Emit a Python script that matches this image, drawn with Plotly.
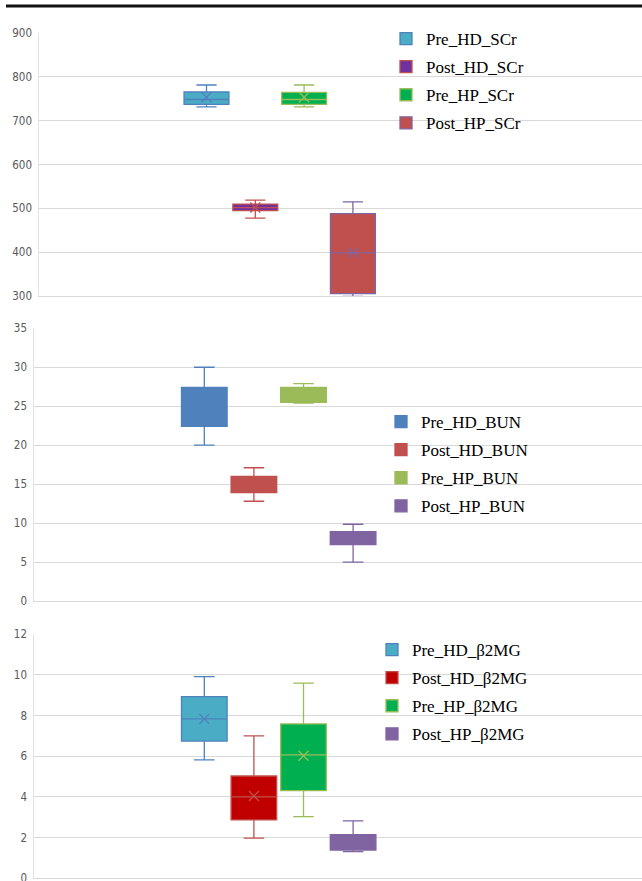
import plotly.graph_objects as go

# ---------------- data ----------------
scr_names = ["Pre_HD_SCr", "Post_HD_SCr", "Pre_HP_SCr", "Post_HP_SCr"]
scr_min = [731, 478, 731, 300]
scr_q1 = [737, 495, 737, 306]
scr_median = [748, 502, 748, 399]
scr_q3 = [765, 510, 764, 488]
scr_max = [781, 519, 781, 515]
scr_mean = [753, 502, 753, 399]
scr_ticks = [300, 400, 500, 600, 700, 800, 900]

bun_names = ["Pre_HD_BUN", "Post_HD_BUN", "Pre_HP_BUN", "Post_HP_BUN"]
bun_min = [20.0, 12.8, 25.4, 5.0]
bun_q1 = [22.4, 13.9, 25.5, 7.25]
bun_median = [24.6, 15.0, 26.6, 8.1]
bun_q3 = [27.4, 16.0, 27.4, 8.9]
bun_max = [30.0, 17.1, 27.9, 9.85]
bun_mean = [24.7, 15.0, 26.4, 8.0]
bun_ticks = [0, 5, 10, 15, 20, 25, 30, 35]

b2m_names = ["Pre_HD_β2MG", "Post_HD_β2MG", "Pre_HP_β2MG", "Post_HP_β2MG"]
b2m_min = [5.82, 1.98, 3.03, 1.31]
b2m_q1 = [6.75, 2.87, 4.31, 1.39]
b2m_median = [7.84, 4.0, 6.07, 1.67]
b2m_q3 = [8.93, 5.03, 7.59, 2.15]
b2m_max = [9.92, 7.0, 9.6, 2.82]
b2m_mean = [7.84, 4.05, 6.03, 1.85]
b2m_ticks = [0, 2, 4, 6, 8, 10, 12]

# ---------------- styles ----------------
W, H = 642, 881
line_cols = ["#4F81BD", "#C0504D", "#9BBB59", "#8064A2"]
scr_fill = ["#4BACC6", "#7030A0", "#00B050", "#C0504D"]
bun_fill = ["#4F81BD", "#C0504D", "#9BBB59", "#8064A2"]
b2m_fill = ["#4BACC6", "#C00000", "#00B050", "#8064A2"]

panels = [
    dict(names=scr_names, mn=scr_min, q1=scr_q1, med=scr_median, q3=scr_q3, mx=scr_max,
         mean=scr_mean, ticks=scr_ticks, fill=scr_fill, yr=[300, 900],
         ytop=32.7, ybot=296.3, xleft=39.3, c0=206.5, sp=48.8,
         legx=386, legy=21),
    dict(names=bun_names, mn=bun_min, q1=bun_q1, med=bun_median, q3=bun_q3, mx=bun_max,
         mean=bun_mean, ticks=bun_ticks, fill=bun_fill, yr=[0, 35],
         ytop=328.3, ybot=601.0, xleft=34.3, c0=204.3, sp=49.6,
         legx=381, legy=404),
    dict(names=b2m_names, mn=b2m_min, q1=b2m_q1, med=b2m_median, q3=b2m_q3, mx=b2m_max,
         mean=b2m_mean, ticks=b2m_ticks, fill=b2m_fill, yr=[0, 12],
         ytop=634.3, ybot=878.3, xleft=34.3, c0=204.3, sp=49.6,
         legx=372, legy=632),
]

fig = go.Figure()
tick_font = dict(family="Liberation Sans Narrow, DejaVu Sans Condensed, Arial Narrow, sans-serif",
                 size=11.5, color="#595959")
legend_font = dict(family="Liberation Serif, Times New Roman, serif", size=17, color="#000000")

layout = dict(width=W, height=H, margin=dict(l=0, r=0, t=0, b=0, autoexpand=False),
              paper_bgcolor="white", plot_bgcolor="white", showlegend=True)

for p_i, p in enumerate(panels):
    k = "" if p_i == 0 else str(p_i + 1)
    xa, ya = "x" + k, "y" + k
    leg = "legend" + k
    for i, name in enumerate(p["names"]):
        fig.add_trace(go.Box(
            x=[i], q1=[p["q1"][i]], median=[p["med"][i]], q3=[p["q3"][i]],
            lowerfence=[p["mn"][i]], upperfence=[p["mx"][i]],
            name=name, width=0.92, whiskerwidth=0.45,
            fillcolor=p["fill"][i], line=dict(color=line_cols[i], width=1.3),
            xaxis=xa, yaxis=ya, legend=leg, legendgroup=name + leg,
            boxpoints=False, hoverinfo="skip",
        ))
        fig.add_trace(go.Scatter(
            x=[i], y=[p["mean"][i]], mode="markers", showlegend=False,
            marker=dict(symbol="x-thin-open", size=10, color=line_cols[i],
                        line=dict(color=line_cols[i], width=1.3)),
            xaxis=xa, yaxis=ya, hoverinfo="skip", cliponaxis=False,
        ))
    xl = -(p["c0"] - p["xleft"]) / p["sp"]
    xr = 3 + (W - (p["c0"] + 3 * p["sp"])) / p["sp"]
    layout["xaxis" + k] = dict(domain=[p["xleft"] / W, 1], range=[xl, xr],
                               anchor=ya, showgrid=False, showticklabels=False,
                               zeroline=False, showline=True, linecolor="#D9D9D9",
                               linewidth=1, ticks="", fixedrange=True, automargin=False)
    layout["yaxis" + k] = dict(domain=[1 - p["ybot"] / H, 1 - p["ytop"] / H],
                               range=p["yr"], anchor=xa, tickvals=p["ticks"],
                               showgrid=True, gridcolor="#D9D9D9", gridwidth=1,
                               zeroline=False, showline=True, linecolor="#E3E3E3",
                               ticks="", ticklabelstandoff=4, tickfont=tick_font,
                               ticklabeloverflow="allow",
                               fixedrange=True, automargin=False)
    layout[leg] = dict(x=p["legx"] / W, y=1 - p["legy"] / H, xanchor="left", yanchor="top",
                       bgcolor="rgba(0,0,0,0)", font=legend_font, tracegroupgap=3,
                       itemclick=False, itemdoubleclick=False)

layout["shapes"] = [dict(type="line", xref="paper", yref="paper",
                         x0=6 / W, x1=1, y0=1 - 6 / H, y1=1 - 6 / H,
                         line=dict(color="#111111", width=3))]
fig.update_layout(**layout)

page_fix = (
    "var s=document.documentElement.style;s.margin='0';s.padding='0';s.overflow='hidden';"
    "var b=document.body.style;b.margin='0';b.padding='0';b.overflow='hidden';"
    "var d=document.getElementsByClassName('plotly-graph-div')[0];"
    "if(d){d.style.position='fixed';d.style.left='0px';d.style.top='0px';}"
)
fig.write_html("out.html", post_script=page_fix,
               config={"displayModeBar": False, "responsive": False, "staticPlot": True})
